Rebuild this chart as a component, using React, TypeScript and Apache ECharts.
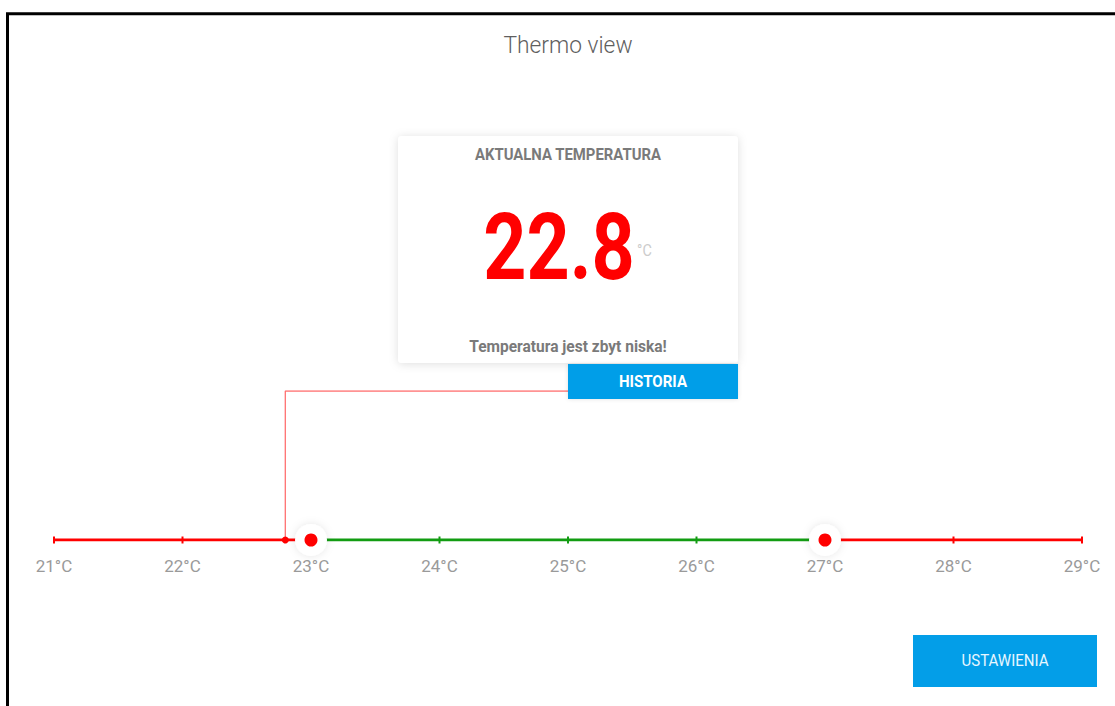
import React, { useEffect, useRef } from "react";
import * as echarts from "echarts";

const tickValues = [21, 22, 23, 24, 25, 26, 27, 28, 29];
const lowLimit = 23;
const highLimit = 27;
const currentTemp = 22.8;
const leaderTarget = 25;
const titleText = "Thermo view";
const cardTitle = "AKTUALNA TEMPERATURA";
const cardMessage = "Temperatura jest zbyt niska!";
const historyLabel = "HISTORIA";
const settingsLabel = "USTAWIENIA";

const RED = "#ff0000";
const GREEN = "#129c12";
const FONT = "Roboto, 'Noto Sans', sans-serif";

export default function App() {
  const ref = useRef<HTMLDivElement>(null);
  useEffect(() => {
    if (!ref.current) return;
    const chart = echarts.init(ref.current, undefined, { renderer: "svg" });

    const tickSym = (v: number, color: string) => ({
      value: [v, 0],
      symbol: "rect",
      symbolSize: [2, 7],
      itemStyle: { color },
    });

    const lowData: any[] = tickValues
      .filter((v) => v < lowLimit)
      .map((v) => tickSym(v, RED));
    lowData.push({ value: [currentTemp, 0], symbol: "circle", symbolSize: 7, itemStyle: { color: RED } });
    lowData.push({ value: [lowLimit, 0], symbol: "none" });

    const midData: any[] = [{ value: [lowLimit, 0], symbol: "none" }];
    tickValues
      .filter((v) => v > lowLimit && v < highLimit)
      .forEach((v) => midData.push(tickSym(v, GREEN)));
    midData.push({ value: [highLimit, 0], symbol: "none" });

    const highData: any[] = [{ value: [highLimit, 0], symbol: "none" }];
    tickValues.filter((v) => v > highLimit).forEach((v) => highData.push(tickSym(v, RED)));

    const limits = [lowLimit, highLimit].map((v) => [v, 0]);

    chart.setOption({
      animation: false,
      grid: { left: 54, right: 33, top: 391, bottom: 166, containLabel: false },
      xAxis: {
        type: "value",
        min: 21,
        max: 29,
        interval: 1,
        axisLine: { show: false },
        axisTick: { show: false },
        splitLine: { show: false },
        axisLabel: {
          formatter: "{value}°C",
          color: "#9a9a9a",
          fontSize: 17,
          fontFamily: FONT,
          margin: 17,
        },
      },
      yAxis: { type: "value", min: 0, max: 1, show: false },
      series: [
        {
          type: "line",
          data: [
            [currentTemp, 0],
            [currentTemp, 1],
            [leaderTarget, 1],
          ],
          symbol: "none",
          lineStyle: { color: "#ff7070", width: 1.3 },
          z: 1,
          silent: true,
        },
        {
          type: "line",
          data: lowData,
          lineStyle: { color: RED, width: 3 },
          showAllSymbol: true,
          z: 2,
        },
        {
          type: "line",
          data: midData,
          lineStyle: { color: GREEN, width: 3 },
          showAllSymbol: true,
          z: 2,
        },
        {
          type: "line",
          data: highData,
          lineStyle: { color: RED, width: 3 },
          showAllSymbol: true,
          z: 2,
        },
        {
          type: "scatter",
          data: limits,
          symbolSize: 32,
          itemStyle: { color: "#ffffff", opacity: 1, shadowBlur: 8, shadowColor: "rgba(0,0,0,0.10)" },
          z: 3,
        },
        {
          type: "scatter",
          data: limits,
          symbolSize: 13,
          itemStyle: { color: RED, opacity: 1 },
          z: 4,
        },
      ],
      graphic: [
        {
          type: "rect",
          shape: { x: 7.5, y: 13.8, width: 1300, height: 900 },
          style: { fill: "none", stroke: "#000", lineWidth: 3 },
          silent: true,
          z: 0,
        },
        {
          type: "text",
          x: 568,
          y: 45,
          style: {
            text: titleText,
            fill: "#5f5f5f",
            font: `300 24px ${FONT}`,
            textAlign: "center",
            textVerticalAlign: "middle",
          },
          scaleX: 0.95,
        },
        {
          type: "rect",
          shape: { x: 398, y: 136, width: 340, height: 227, r: 4 },
          style: {
            fill: "#fff",
            shadowBlur: 10,
            shadowColor: "rgba(0,0,0,0.13)",
            shadowOffsetY: 1,
          },
          z: 10,
        },
        {
          type: "text",
          x: 568,
          y: 155,
          style: {
            text: cardTitle,
            fill: "#7a7a7a",
            font: `bold 16px ${FONT}`,
            textAlign: "center",
            textVerticalAlign: "middle",
          },
          scaleX: 0.93,
          z: 11,
        },
        {
          type: "text",
          x: 559,
          y: 247,
          style: {
            text: String(currentTemp),
            fill: RED,
            font: `bold 93px ${FONT}`,
            textAlign: "center",
            textVerticalAlign: "middle",
          },
          scaleX: 0.81,
          z: 11,
        },
        {
          type: "text",
          x: 637,
          y: 251,
          style: {
            text: "°C",
            fill: "#cccccc",
            font: `16px ${FONT}`,
            textAlign: "left",
            textVerticalAlign: "middle",
          },
          scaleX: 0.9,
          z: 11,
        },
        {
          type: "text",
          x: 568,
          y: 346,
          style: {
            text: cardMessage,
            fill: "#7a7a7a",
            font: `bold 16px ${FONT}`,
            textAlign: "center",
            textVerticalAlign: "middle",
          },
          scaleX: 0.97,
          z: 11,
        },
        {
          type: "rect",
          shape: { x: 568, y: 364, width: 170, height: 35 },
          style: { fill: "#039ee8", shadowBlur: 4, shadowColor: "rgba(0,0,0,0.12)" },
          z: 11,
        },
        {
          type: "text",
          x: 653,
          y: 381.5,
          style: {
            text: historyLabel,
            fill: "#fff",
            font: `bold 16px ${FONT}`,
            textAlign: "center",
            textVerticalAlign: "middle",
          },
          scaleX: 0.94,
          z: 12,
        },
        {
          type: "rect",
          shape: { x: 913, y: 635, width: 184, height: 52 },
          style: { fill: "#039ee8" },
          z: 11,
        },
        {
          type: "text",
          x: 1005,
          y: 661,
          style: {
            text: settingsLabel,
            fill: "#e8f6ff",
            font: `16px ${FONT}`,
            textAlign: "center",
            textVerticalAlign: "middle",
          },
          scaleX: 0.94,
          z: 12,
        },
      ],
    });
    return () => chart.dispose();
  }, []);

  return (
    <div
      ref={ref}
      style={{ position: "absolute", left: 0, top: 0, width: 1115, height: 706, background: "#fff" }}
    />
  );
}
